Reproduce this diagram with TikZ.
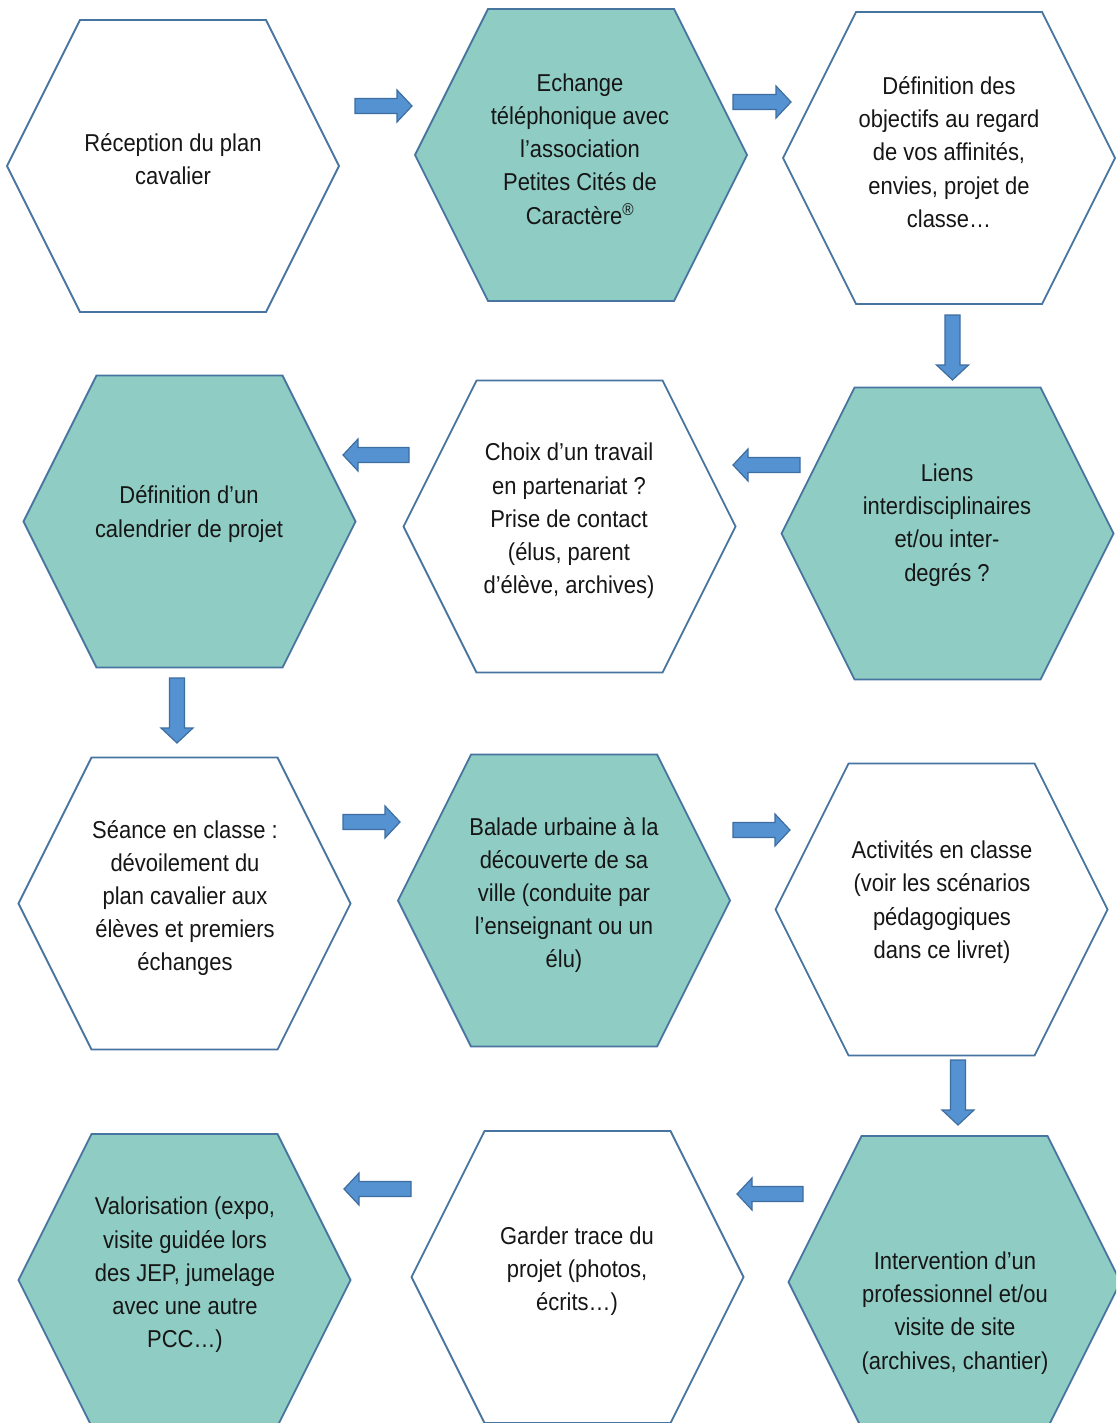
\documentclass[tikz,border=0pt]{standalone}
\usepackage{fontspec}
\setmainfont[FakeStretch=0.9]{Liberation Sans}
\definecolor{teal1}{RGB}{143,205,196}
\definecolor{hexblue}{RGB}{72,116,160}
\definecolor{arrfill}{RGB}{84,146,209}
\definecolor{arrline}{RGB}{62,110,160}
\definecolor{txtc}{RGB}{22,22,22}
\tikzset{
  hexline/.style={draw=hexblue,line width=1.8pt,line join=miter},
  txt/.style={align=center,text=txtc,inner sep=0pt,font=\fontsize{24.4}{33.2}\selectfont},
  arrowstyle/.style={fill=arrfill,draw=arrline,line width=1.2pt,line join=miter},
  pics/barrow/.style={code={
    \draw[arrowstyle] (0,-7.5) -- ({#1-15},-7.5) -- ({#1-15},-16) -- (#1,0) -- ({#1-15},16) -- ({#1-15},7.5) -- (0,7.5) -- cycle;}}
}
\newcommand\hexshape[3]{\draw[hexline,fill=#3] (#1,#2) ++(-93,-146) -- ++(186,0) -- ++(73,146) -- ++(-73,146) -- ++(-186,0) -- ++(-73,-146) -- cycle;}
\begin{document}
\begin{tikzpicture}[x=1pt,y=-1pt]
\useasboundingbox (0,0) rectangle (1116,1423);
\fill[white] (0,0) rectangle (1116,1423);
\clip (0,0) rectangle (1116,1423);
% hexagons
\hexshape{173}{166}{white}
\hexshape{581}{155}{teal1}
\hexshape{949}{158}{white}
\hexshape{189.5}{521.5}{teal1}
\hexshape{569.5}{526.5}{white}
\hexshape{947.5}{533.5}{teal1}
\hexshape{184.5}{903.5}{white}
\hexshape{564}{900.5}{teal1}
\hexshape{941.5}{909.5}{white}
\hexshape{184.5}{1280}{teal1}
\hexshape{577.5}{1277}{white}
\hexshape{954.5}{1282}{teal1}
% texts
\node[txt] (n1) at (173,159) {Réception du plan\\cavalier};
\node[txt] (n2) at (580,149) {Echange\\téléphonique avec\\l’association\\Petites Cités de\\Caractère\textsuperscript{®}};
\node[txt] (n3) at (949,152) {Définition des\\objectifs au regard\\de vos affinités,\\envies, projet de\\classe…};
\node[txt] (n4) at (189,514) {Définition d’un\\calendrier de projet};
\node[txt] (n5) at (569,521) {Choix d’un travail\\en partenariat ?\\Prise de contact\\(élus, parent\\d’élève, archives)};
\node[txt] (n6) at (947,525) {Liens\\interdisciplinaires\\et/ou inter-\\degrés ?};
\node[txt] (n7) at (185,898) {Séance en classe :\\dévoilement du\\plan cavalier aux\\élèves et premiers\\échanges};
\node[txt] (n8) at (564,895) {Balade urbaine à la\\découverte de sa\\ville (conduite par\\l’enseignant ou un\\élu)};
\node[txt] (n9) at (942,902) {Activités en classe\\(voir les scénarios\\pédagogiques\\dans ce livret)};
\node[txt] (n10) at (185,1275) {Valorisation (expo,\\visite guidée lors\\des JEP, jumelage\\avec une autre\\PCC…)};
\node[txt] (n11) at (577,1271) {Garder trace du\\projet (photos,\\écrits…)};
\node[txt] (n12) at (955,1313) {Intervention d’un\\professionnel et/ou\\visite de site\\(archives, chantier)};
% arrows
\coordinate (a1) at (355,106);
\coordinate (a2) at (733,102);
\coordinate (a3) at (952.5,315);
\coordinate (a4) at (800,465);
\coordinate (a5) at (409,455);
\coordinate (a6) at (177,678);
\coordinate (a7) at (343,822);
\coordinate (a8) at (733,830);
\coordinate (a9) at (958,1060);
\coordinate (a10) at (803,1194);
\coordinate (a11) at (411,1189);
\pic at (a1) {barrow=57};
\pic at (a2) {barrow=58};
\pic[rotate=-90] at (a3) {barrow=65};
\pic[rotate=180] at (a4) {barrow=67};
\pic[rotate=180] at (a5) {barrow=66};
\pic[rotate=-90] at (a6) {barrow=65};
\pic at (a7) {barrow=57};
\pic at (a8) {barrow=57};
\pic[rotate=-90] at (a9) {barrow=65};
\pic[rotate=180] at (a10) {barrow=66};
\pic[rotate=180] at (a11) {barrow=67};
\end{tikzpicture}
\end{document}
